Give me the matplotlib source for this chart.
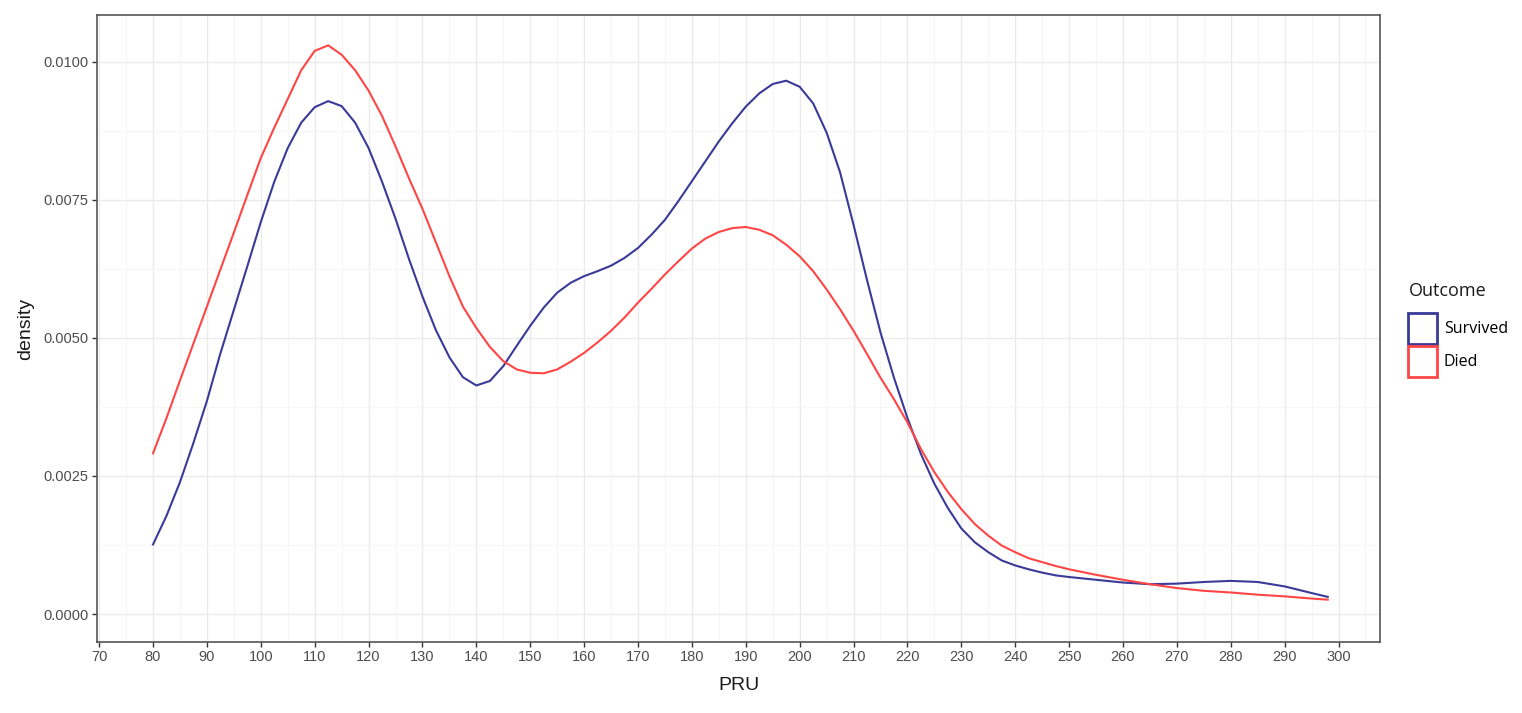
import matplotlib
matplotlib.use("Agg")
import matplotlib.pyplot as plt
from matplotlib.patches import Patch
from matplotlib.ticker import MultipleLocator
import numpy as np

# values (PRU vs density)
pru_died = [80, 82.5, 85, 87.5, 90, 92.5, 95, 97.5, 100, 102.5, 105, 107.5,
            110, 112.5, 115, 117.5, 120, 122.5, 125, 127.5, 130, 132.5, 135,
            137.5, 140, 142.5, 145, 147.5, 150, 152.5, 155, 157.5, 160, 162.5,
            165, 167.5, 170, 172.5, 175, 177.5, 180, 182.5, 185, 187.5, 190,
            192.5, 195, 197.5, 200, 202.5, 205, 207.5, 210, 212.5, 215, 217.5,
            220, 222.5, 225, 227.5, 230, 232.5, 235, 237.5, 240, 242.5, 245,
            247.5, 250, 252.5, 255, 260, 265, 270, 275, 280, 285, 290, 295, 298]
dens_died = [0.00291, 0.00355, 0.00423, 0.00490, 0.00557, 0.00624, 0.00691,
             0.00759, 0.00826, 0.00881, 0.00933, 0.00985, 0.01020, 0.01030,
             0.01013, 0.00985, 0.00948, 0.00902, 0.00847, 0.00789, 0.00734,
             0.00673, 0.00612, 0.00557, 0.00518, 0.00484, 0.00458, 0.00443,
             0.00437, 0.00436, 0.00443, 0.00457, 0.00473, 0.00492, 0.00513,
             0.00537, 0.00564, 0.00589, 0.00615, 0.00639, 0.00662, 0.00680,
             0.00692, 0.00699, 0.00701, 0.00696, 0.00686, 0.00669, 0.00648,
             0.00621, 0.00588, 0.00552, 0.00513, 0.00471, 0.00428, 0.00389,
             0.00347, 0.00299, 0.00257, 0.00221, 0.00190, 0.00163, 0.00142,
             0.00124, 0.00112, 0.00101, 0.00094, 0.00087, 0.00081, 0.00076,
             0.00071, 0.00062, 0.00054, 0.00047, 0.00042, 0.00039, 0.00035,
             0.00032, 0.00028, 0.00026]

pru_surv = [80, 82.5, 85, 87.5, 90, 92.5, 95, 97.5, 100, 102.5, 105, 107.5,
            110, 112.5, 115, 117.5, 120, 122.5, 125, 127.5, 130, 132.5, 135,
            137.5, 140, 142.5, 145, 147.5, 150, 152.5, 155, 157.5, 160, 162.5,
            165, 167.5, 170, 172.5, 175, 177.5, 180, 182.5, 185, 187.5, 190,
            192.5, 195, 197.5, 200, 202.5, 205, 207.5, 210, 212.5, 215, 217.5,
            220, 222.5, 225, 227.5, 230, 232.5, 235, 237.5, 240, 242.5, 245,
            247.5, 250, 255, 260, 265, 270, 275, 280, 285, 290, 295, 298]
dens_surv = [0.00126, 0.00178, 0.00239, 0.00310, 0.00386, 0.00472, 0.00551,
             0.00630, 0.00710, 0.00783, 0.00844, 0.00890, 0.00918, 0.00929,
             0.00920, 0.00890, 0.00844, 0.00783, 0.00716, 0.00643, 0.00575,
             0.00514, 0.00465, 0.00429, 0.00414, 0.00422, 0.00449, 0.00486,
             0.00522, 0.00555, 0.00582, 0.00600, 0.00612, 0.00621, 0.00631,
             0.00645, 0.00663, 0.00687, 0.00714, 0.00748, 0.00784, 0.00820,
             0.00856, 0.00889, 0.00919, 0.00943, 0.00960, 0.00966, 0.00955,
             0.00925, 0.00872, 0.00800, 0.00705, 0.00605, 0.00510, 0.00428,
             0.00355, 0.00290, 0.00236, 0.00192, 0.00155, 0.00130, 0.00112,
             0.00097, 0.00088, 0.00081, 0.00075, 0.00070, 0.00067, 0.00062,
             0.00057, 0.00054, 0.00055, 0.00058, 0.00060, 0.00058, 0.00050,
             0.00038, 0.00031]

outcomes = ["Survived", "Died"]
colors = {"Survived": "#3a3a98", "Died": "#ff4545"}

x_ticks = np.arange(70, 301, 10)
y_ticks = [0.0, 0.0025, 0.0050, 0.0075, 0.0100]
y_tick_labels = ["0.0000", "0.0025", "0.0050", "0.0075", "0.0100"]

plt.rcParams['font.family'] = ['Liberation Sans', 'DejaVu Sans']

fig = plt.figure(figsize=(15.22, 7.13), dpi=100)
ax = fig.add_axes([97 / 1522, 1 - 642 / 713, (1380 - 97) / 1522, (642 - 15) / 713])

ax.plot(pru_surv, dens_surv, color=colors["Survived"], lw=1.5, zorder=3)
ax.plot(pru_died, dens_died, color=colors["Died"], lw=1.5, zorder=3)

ax.set_xlim(69.6, 307.7)
ax.set_ylim(-0.000507, 0.01085)
ax.set_xticks(x_ticks)
ax.set_xticklabels([str(t) for t in x_ticks])
ax.set_yticks(y_ticks)
ax.set_yticklabels(y_tick_labels)
ax.xaxis.set_minor_locator(MultipleLocator(5))
ax.yaxis.set_minor_locator(MultipleLocator(0.00125))

ax.grid(which='major', color='#ebebeb', lw=1.0, zorder=0)
ax.grid(which='minor', color='#f6f6f6', lw=0.8, zorder=0)
ax.set_axisbelow(True)

ax.tick_params(which='major', direction='out', length=3.5, width=1,
               color='#333333', labelsize=10.5, labelcolor='#4d4d4d', pad=2.5)
ax.tick_params(which='minor', length=0)
for s in ax.spines.values():
    s.set_color('#555555')
    s.set_linewidth(1.2)

ax.set_xlabel('PRU', fontsize=14, color='#1a1a1a', labelpad=9)
ax.set_ylabel('density', fontsize=14, color='#1a1a1a', labelpad=7)

# legend: title as its own text, boxes below it
fig.text(1409 / 1522, 1 - 291 / 713, 'Outcome', family='Open Sans', fontsize=13,
         ha='left', va='center', color='#1a1a1a')
handles = [Patch(facecolor='white', edgecolor=colors[o], lw=2) for o in outcomes]
leg = fig.legend(handles, outcomes, loc='upper left',
                 bbox_to_anchor=(1408 / 1522, 1 - 313 / 713),
                 frameon=False, borderaxespad=0, borderpad=0,
                 handlelength=1.8, handleheight=2.6, labelspacing=0.12,
                 handletextpad=0.45,
                 prop={'family': 'Open Sans', 'size': 11.5})

fig.savefig('out.png', dpi=100)
